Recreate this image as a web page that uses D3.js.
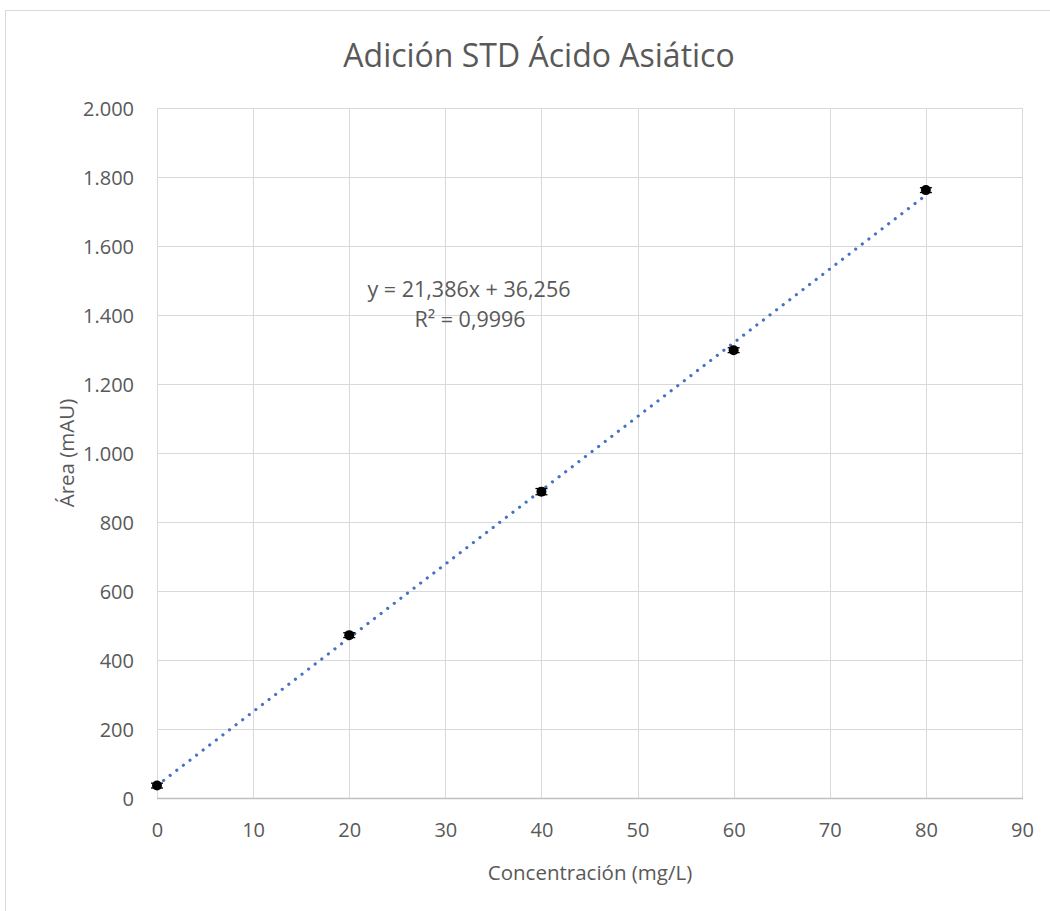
<!DOCTYPE html>
<html>
<head>
<meta charset="utf-8">
<script src="https://cdn.jsdelivr.net/npm/d3@7/dist/d3.min.js"></script>
<style>
  html, body { margin: 0; padding: 0; background: #fff; }
  svg { display: block; font-family: "Open Sans", "Noto Sans", sans-serif; }
</style>
</head>
<body>
<svg id="chart" width="1050" height="911"></svg>
<script>
// Calibration data: standard additions of asiatic acid
const concentrations = [0, 20, 40, 60, 80];
const areas = [36, 472, 888, 1298, 1762];
const areaErrors = [7, 7, 9, 7, 7];
const xTicks = [0, 10, 20, 30, 40, 50, 60, 70, 80, 90];
const yTicks = [0, 200, 400, 600, 800, 1000, 1200, 1400, 1600, 1800, 2000];
const trendSlope = 21.386;
const trendIntercept = 36.256;
const trendR2 = 0.9996;

const titleText = "Adición STD Ácido Asiático";
const xLabel = "Concentración (mg/L)";
const yLabel = "Área (mAU)";

const svg = d3.select("#chart");
const W = 1050, H = 911;
const plot = { left: 157, top: 108, right: 1022, bottom: 798 };
const textColor = "#595959";

const locale = d3.formatLocale({ decimal: ",", thousands: ".", grouping: [3], currency: ["", ""] });
const fmtThousands = locale.format(",.0f");
const fmtDec = locale.format(".3f");
const fmtR2 = locale.format(".4f");

const x = d3.scaleLinear().domain([0, 90]).range([plot.left, plot.right]);
const y = d3.scaleLinear().domain([0, 2000]).range([plot.bottom, plot.top]);

// chart frame
svg.append("rect")
  .attr("x", 5.5).attr("y", 10.5)
  .attr("width", W + 10).attr("height", H + 10)
  .attr("fill", "#fff").attr("stroke", "#d9d9d9").attr("stroke-width", 1);

// gridlines
svg.append("g")
  .selectAll("line")
  .data(yTicks.filter(d => d > 0))
  .join("line")
  .attr("x1", plot.left).attr("x2", plot.right)
  .attr("y1", d => Math.round(y(d)) + 0.5).attr("y2", d => Math.round(y(d)) + 0.5)
  .attr("stroke", "#d9d9d9").attr("stroke-width", 1);

svg.append("g")
  .selectAll("line")
  .data(xTicks)
  .join("line")
  .attr("x1", d => Math.round(x(d)) + 0.5).attr("x2", d => Math.round(x(d)) + 0.5)
  .attr("y1", plot.top).attr("y2", plot.bottom)
  .attr("stroke", "#d9d9d9").attr("stroke-width", 1);

// x axis baseline
svg.append("line")
  .attr("x1", plot.left).attr("x2", plot.right + 1)
  .attr("y1", plot.bottom + 0.5).attr("y2", plot.bottom + 0.5)
  .attr("stroke", "#bfbfbf").attr("stroke-width", 1.5);

// axes (labels only)
function styleAxis(g) {
  g.attr("font-family", null).attr("font-size", null);
  g.select(".domain").remove();
  g.selectAll("text").attr("font-size", 20).attr("fill", textColor);
}

const xAxis = d3.axisBottom(x).tickValues(xTicks).tickSize(0).tickPadding(0).tickFormat(d3.format("d"));
const gx = svg.append("g").attr("transform", `translate(0,${plot.bottom})`).call(xAxis).call(styleAxis);
gx.selectAll("text").attr("dy", null).attr("y", 39);

const yAxis = d3.axisLeft(y).tickValues(yTicks).tickSize(0).tickPadding(23).tickFormat(fmtThousands);
const gy = svg.append("g").attr("transform", `translate(${plot.left},0)`).call(yAxis).call(styleAxis);
gy.selectAll("text").attr("dy", "0.35em");

// linear trendline (dotted)
const trendX = d3.extent(concentrations);
svg.append("line")
  .attr("x1", x(trendX[0])).attr("y1", y(trendIntercept + trendSlope * trendX[0]))
  .attr("x2", x(trendX[1])).attr("y2", y(trendIntercept + trendSlope * trendX[1]))
  .attr("stroke", "#4472c4").attr("stroke-width", 3.2)
  .attr("stroke-linecap", "round").attr("stroke-dasharray", "0.01 8.3");

// error bars
const eb = svg.append("g").attr("stroke", "#000").attr("stroke-width", 1.3);
concentrations.forEach((c, i) => {
  const cx = x(c), v = areas[i], e = areaErrors[i];
  eb.append("line").attr("x1", cx).attr("x2", cx).attr("y1", y(v - e)).attr("y2", y(v + e));
  eb.append("line").attr("x1", cx - 6).attr("x2", cx + 6).attr("y1", y(v - e)).attr("y2", y(v - e));
  eb.append("line").attr("x1", cx - 6).attr("x2", cx + 6).attr("y1", y(v + e)).attr("y2", y(v + e));
});

// data points
svg.append("g")
  .selectAll("circle")
  .data(concentrations.map((c, i) => ({ c, v: areas[i] })))
  .join("circle")
  .attr("cx", d => x(d.c)).attr("cy", d => y(d.v))
  .attr("r", 5).attr("fill", "#000");

// regression equation
const eq = svg.append("text").attr("font-size", 21.5).attr("fill", textColor).attr("text-anchor", "middle");
eq.append("tspan").attr("x", 469).attr("y", 297)
  .text(`y = ${fmtDec(trendSlope)}x + ${fmtDec(trendIntercept)}`);
eq.append("tspan").attr("x", 470).attr("y", 327)
  .text(`R² = ${fmtR2(trendR2)}`);

// title
svg.append("text")
  .attr("x", 539).attr("y", 67)
  .attr("text-anchor", "middle").attr("font-size", 32).attr("fill", textColor)
  .text(titleText);

// axis titles
svg.append("text")
  .attr("x", 590).attr("y", 880)
  .attr("text-anchor", "middle").attr("font-size", 20.5).attr("fill", textColor)
  .text(xLabel);

svg.append("text")
  .attr("transform", `translate(74,${(plot.top + plot.bottom) / 2}) rotate(-90)`)
  .attr("text-anchor", "middle").attr("font-size", 20.5).attr("fill", textColor)
  .text(yLabel);
</script>
</body>
</html>
